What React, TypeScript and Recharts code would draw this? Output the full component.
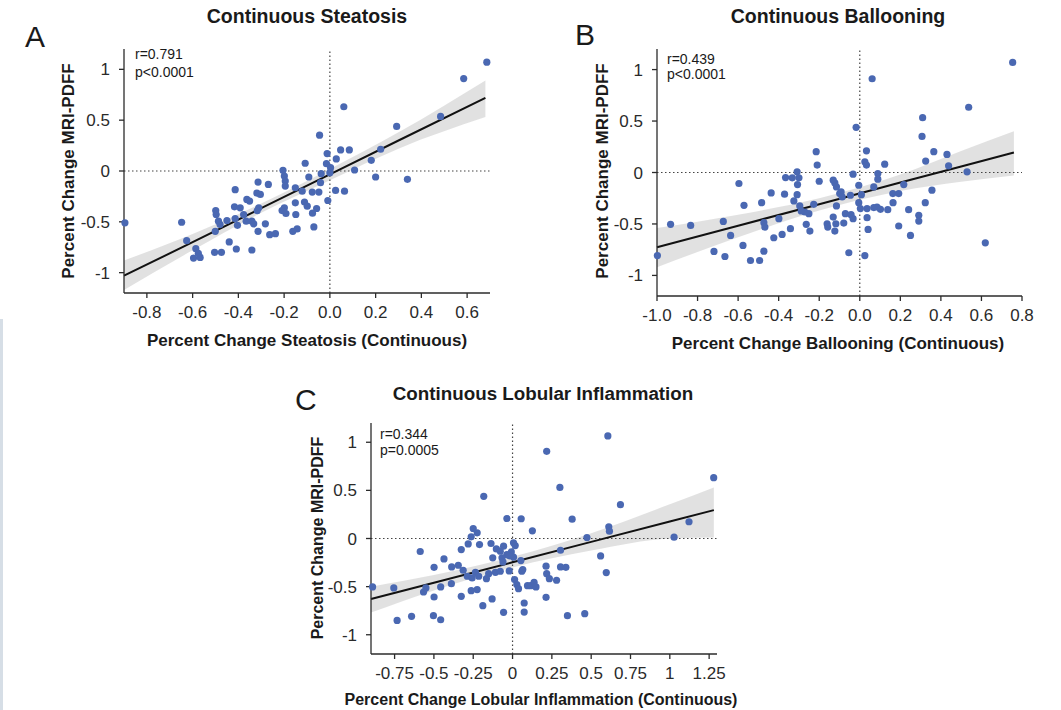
import React from "react";
import { ComposedChart, Scatter, Line, Area, XAxis, YAxis, ReferenceLine } from "recharts";

// shared y axis (percent change MRI-PDFF)
const yTicks = [-1, -0.5, 0, 0.5, 1];

// ---- A: steatosis ----
const steatosisTicks = [-0.8, -0.6, -0.4, -0.2, 0, 0.2, 0.4, 0.6];
const steatosisPoints: [number, number][] = [
  [0.686, 1.07], [0.585, 0.909], [0.484, 0.537], [0.061, 0.632], [-0.045, 0.352], [0.292, 0.438],
  [0.222, 0.214], [0.181, 0.105], [0.108, 0.01], [0.2, -0.059], [0.339, -0.082], [0.047, 0.207],
  [0.085, 0.207], [-0.012, 0.171], [0.028, 0.119], [-0.015, 0.072], [0.003, 0.033], [0, -0.016],
  [-0.038, -0.026], [-0.041, -0.115], [0.025, -0.191], [0.064, -0.198], [-0.009, -0.29], [-0.048, -0.207],
  [-0.077, -0.207], [-0.092, -0.059], [-0.108, 0.076], [-0.151, -0.165], [-0.121, -0.198], [-0.151, -0.313],
  [-0.111, -0.306], [-0.099, -0.346], [-0.058, -0.369], [-0.076, -0.415], [-0.149, -0.428], [-0.07, -0.55],
  [-0.143, -0.57], [-0.162, -0.593], [-0.205, 0.007], [-0.199, -0.049], [-0.195, -0.099], [-0.195, -0.148],
  [-0.199, -0.362], [-0.209, -0.389], [-0.192, -0.418], [-0.269, -0.132], [-0.314, -0.109], [-0.319, -0.217],
  [-0.304, -0.23], [-0.363, -0.28], [-0.351, -0.296], [-0.311, -0.362], [-0.318, -0.39], [-0.414, -0.184],
  [-0.417, -0.352], [-0.392, -0.362], [-0.377, -0.428], [-0.366, -0.494], [-0.341, -0.494], [-0.333, -0.52],
  [-0.404, -0.534], [-0.414, -0.468], [-0.499, -0.389], [-0.497, -0.428], [-0.487, -0.494], [-0.48, -0.527],
  [-0.45, -0.487], [-0.501, -0.593], [-0.282, -0.52], [-0.314, -0.593], [-0.263, -0.626], [-0.238, -0.616],
  [-0.44, -0.698], [-0.409, -0.767], [-0.341, -0.777], [-0.504, -0.8], [-0.474, -0.8], [-0.626, -0.685],
  [-0.586, -0.764], [-0.596, -0.856], [-0.567, -0.85], [-0.575, -0.81], [-0.648, -0.504], [-0.896, -0.51],
];
const steatosisFitX = [-0.9, -0.6, -0.3, 0, 0.3, 0.68];
const steatosisFit = [-1.03, -0.7, -0.366, -0.034, 0.3, 0.72];
const steatosisLower = [-1.17, -0.78, -0.41, -0.09, 0.22, 0.53];
const steatosisUpper = [-0.88, -0.62, -0.32, 0.02, 0.38, 0.89];

// ---- B: ballooning ----
const ballooningTicks = [-1, -0.8, -0.6, -0.4, -0.2, 0, 0.2, 0.4, 0.6, 0.8];
const ballooningPoints: [number, number][] = [
  [0.754, 1.07], [0.061, 0.911], [-0.018, 0.439], [0.537, 0.634], [0.31, 0.533], [0.307, 0.351],
  [0.325, 0.111], [0.365, 0.202], [0.43, 0.176], [0.438, 0.065], [0.529, 0.007], [0.619, -0.683],
  [0.033, 0.211], [0.025, 0.104], [0.033, 0.072], [0.089, -0.01], [0.089, -0.065], [0.123, 0.081],
  [0.069, -0.14], [-0.033, -0.016], [-0.005, -0.124], [0.008, -0.215], [-0.046, -0.221], [-0.005, -0.293],
  [0.003, -0.351], [0.036, -0.351], [0.069, -0.341], [0.085, -0.335], [0.102, -0.358], [0.138, -0.361],
  [0.036, -0.439], [0.041, -0.553], [0.025, -0.807], [-0.054, -0.78], [-0.071, -0.4], [-0.043, -0.41],
  [-0.033, -0.449], [-0.079, -0.491], [-0.118, -0.498], [-0.161, -0.498], [-0.158, -0.53], [-0.123, -0.569],
  [-0.131, -0.433], [-0.115, -0.325], [-0.099, -0.205], [-0.092, -0.189], [-0.087, -0.237], [-0.115, -0.14],
  [-0.123, -0.101], [-0.131, -0.075], [-0.215, 0.202], [-0.21, 0.072], [-0.2, -0.085], [-0.227, -0.309],
  [-0.246, -0.569], [-0.264, -0.504], [-0.251, -0.4], [-0.271, -0.384], [-0.309, 0.007], [-0.3, -0.052],
  [-0.307, -0.117], [-0.309, -0.215], [-0.325, -0.276], [-0.296, -0.325], [-0.289, -0.374], [-0.333, -0.052],
  [-0.366, -0.049], [-0.371, -0.211], [-0.437, -0.198], [-0.399, -0.449], [-0.424, -0.634], [-0.383, -0.602],
  [-0.342, -0.546], [-0.473, -0.488], [-0.468, -0.53], [-0.484, -0.293], [-0.473, -0.764], [-0.494, -0.855],
  [-0.539, -0.855], [-0.571, -0.319], [-0.596, -0.107], [-0.576, -0.709], [-0.637, -0.611], [-0.665, -0.816],
  [-0.673, -0.475], [-0.719, -0.767], [-0.834, -0.514], [-0.933, -0.504], [-0.998, -0.807], [0.163, -0.205],
  [0.164, -0.293], [0.192, -0.52], [0.217, -0.117], [0.241, -0.361], [0.25, -0.611], [0.291, -0.416],
  [0.291, -0.472], [0.323, -0.293], [0.356, -0.172], [0.192, -0.205],
];
const ballooningFitX = [-1.0, -0.6, -0.2, 0.2, 0.5, 0.76];
const ballooningFit = [-0.726, -0.517, -0.308, -0.098, 0.059, 0.194];
const ballooningLower = [-0.92, -0.63, -0.37, -0.18, -0.09, -0.03];
const ballooningUpper = [-0.54, -0.41, -0.25, -0.02, 0.21, 0.4];

// ---- C: lobular inflammation ----
const lobularTicks = [-0.75, -0.5, -0.25, 0, 0.25, 0.5, 0.75, 1, 1.25];
const lobularTickLabels = ["-0.75", "-0.5", "-0.25", "0", "0.25", "0.5", "0.75", "1", "1.25"];
const lobularPoints: [number, number][] = [
  [0.606, 1.066], [0.217, 0.906], [1.279, 0.632], [0.301, 0.531], [0.686, 0.351], [0.379, 0.201],
  [1.122, 0.174], [1.027, 0.014], [0.612, 0.122], [0.616, 0.076], [0.473, 0.01], [0.56, -0.181],
  [0.596, -0.354], [0.459, -0.781], [0.349, -0.802], [0.305, -0.295], [0.339, -0.299], [0.305, -0.122],
  [0.213, -0.288], [0.217, -0.365], [0.234, -0.417], [0.28, -0.434], [0.213, -0.611], [0.126, 0.08],
  [0.055, 0.205], [-0.036, 0.208], [-0.183, 0.438], [0.006, -0.045], [0.017, -0.073], [-0.008, -0.139],
  [-0.036, -0.167], [-0.057, -0.08], [-0.067, -0.201], [-0.078, -0.132], [-0.103, -0.108], [-0.137, -0.052],
  [-0.126, -0.201], [-0.109, -0.351], [-0.152, -0.365], [-0.166, -0.417], [-0.13, -0.628], [-0.189, -0.698],
  [-0.21, -0.063], [-0.225, 0.059], [-0.25, 0.104], [-0.263, 0.017], [-0.282, -0.056], [-0.326, -0.115],
  [-0.345, -0.278], [-0.314, -0.33], [-0.288, -0.392], [-0.236, -0.351], [-0.215, -0.392], [-0.257, -0.41],
  [-0.225, -0.531], [-0.263, -0.542], [-0.326, -0.601], [-0.387, -0.295], [-0.389, -0.469], [-0.436, -0.212],
  [-0.457, -0.503], [-0.499, -0.299], [-0.499, -0.608], [-0.503, -0.802], [-0.457, -0.844], [-0.566, -0.556],
  [-0.551, -0.514], [-0.587, -0.135], [-0.642, -0.809], [-0.734, -0.851], [-0.755, -0.514], [-0.89, -0.503],
  [-0.057, -0.767], [-0.021, -0.337], [0.013, -0.427], [0.027, -0.479], [0.038, -0.521], [0.059, -0.34],
  [0.065, -0.323], [0.074, -0.67], [0.074, -0.764], [0.095, -0.49], [0.116, -0.49], [0.137, -0.455],
  [0.149, -0.503], [0.053, -0.229], [0.006, -0.194], [-0.061, -0.243], [-0.078, -0.34], [-0.02, -0.18],
];
const lobularFitX = [-0.9, -0.5, 0, 0.5, 1.0, 1.28];
const lobularFit = [-0.628, -0.459, -0.247, -0.035, 0.176, 0.295];
const lobularLower = [-0.77, -0.54, -0.3, -0.125, 0.0, 0.01];
const lobularUpper = [-0.5, -0.38, -0.19, 0.055, 0.355, 0.53];

const FONT = '"Liberation Sans", Arial, Helvetica, sans-serif';
const DOT = "#4a68b2";
const AXIS = "#2b2b2b";
const Y_AXIS_W = 60;
const TOP_PAD = 6;
const X_AXIS_H = 34;

type PanelProps = {
  plotLeft: number;
  plotTop: number;
  plotW: number;
  plotH: number;
  xDomain: [number, number];
  xTicks: number[];
  xFormat: (v: number, i: number) => string;
  points: [number, number][];
  fitX: number[];
  fit: number[];
  lower: number[];
  upper: number[];
};

function Panel(p: PanelProps) {
  const table = p.fitX.map((x, i) => ({ x, fit: p.fit[i], band: [p.lower[i], p.upper[i]] }));
  const dots = p.points.map(([x, y]) => ({ x, y }));
  const tickStyle = { fontSize: 17, fill: "#2a2a2a", fontFamily: FONT };
  return (
    <div
      style={{
        position: "absolute",
        left: p.plotLeft - Y_AXIS_W,
        top: p.plotTop - TOP_PAD,
      }}
    >
      <ComposedChart
        width={p.plotW + Y_AXIS_W + 12}
        height={p.plotH + TOP_PAD + X_AXIS_H}
        data={table}
        margin={{ top: TOP_PAD, right: 12, bottom: 0, left: 0 }}
      >
        <XAxis
          type="number"
          dataKey="x"
          domain={p.xDomain}
          ticks={p.xTicks}
          interval={0}
          tickFormatter={p.xFormat}
          height={X_AXIS_H}
          tick={tickStyle}
          tickSize={5}
          tickMargin={8}
          axisLine={{ stroke: AXIS, strokeWidth: 1.3 }}
          tickLine={{ stroke: AXIS, strokeWidth: 1.3 }}
        />
        <YAxis
          type="number"
          domain={[-1.2, 1.2]}
          ticks={yTicks}
          interval={0}
          width={Y_AXIS_W}
          tick={tickStyle}
          tickSize={5}
          tickMargin={9}
          axisLine={{ stroke: AXIS, strokeWidth: 1.3 }}
          tickLine={{ stroke: AXIS, strokeWidth: 1.3 }}
        />
        <ReferenceLine x={0} stroke="#444" strokeWidth={1.2} strokeDasharray="1.5 2.5" />
        <ReferenceLine y={0} stroke="#444" strokeWidth={1.2} strokeDasharray="1.5 2.5" />
        <Scatter
          data={dots}
          dataKey="y"
          fill={DOT}
          isAnimationActive={false}
          shape={(s: any) => <circle cx={s.cx} cy={s.cy} r={3.6} fill={DOT} />}
        />
        <Area
          type="monotone"
          dataKey="band"
          stroke="none"
          fill="#9a9a9a"
          fillOpacity={0.3}
          isAnimationActive={false}
          activeDot={false}
        />
        <Line
          type="linear"
          dataKey="fit"
          stroke="#111"
          strokeWidth={2}
          dot={false}
          activeDot={false}
          isAnimationActive={false}
        />
      </ComposedChart>
    </div>
  );
}

const oneDecimal = (v: number) => v.toFixed(1);

function Text({ x, y, children, size, bold, center, rotate }: any) {
  return (
    <div
      style={{
        position: "absolute",
        left: x,
        top: y,
        transform: `translate(${center ? "-50%" : "0"}, -50%)${rotate ? " rotate(-90deg)" : ""}`,
        fontFamily: FONT,
        fontSize: size,
        fontWeight: bold ? 700 : 400,
        color: "#1a1a1a",
        whiteSpace: "nowrap",
        lineHeight: 1,
      }}
    >
      {children}
    </div>
  );
}

export default function App() {
  return (
    <div style={{ position: "absolute", left: 0, top: 0, width: 1061, height: 710, background: "#fff", overflow: "hidden" }}>
      <div style={{ position: "absolute", left: 0, top: 319, width: 3, height: 391, background: "#d6dee6" }} />

      {/* A */}
      <Text x={25} y={37} size={30}>A</Text>
      <Text x={307} y={17} size={19.5} bold center>Continuous Steatosis</Text>
      <Text x={68} y={171} size={17} bold center rotate>Percent Change MRI-PDFF</Text>
      <Text x={307} y={340} size={17} bold center>Percent Change Steatosis (Continuous)</Text>
      <Panel
        plotLeft={124}
        plotTop={49}
        plotW={366}
        plotH={244}
        xDomain={[-0.9, 0.7]}
        xTicks={steatosisTicks}
        xFormat={oneDecimal}
        points={steatosisPoints}
        fitX={steatosisFitX}
        fit={steatosisFit}
        lower={steatosisLower}
        upper={steatosisUpper}
      />
      <Text x={135} y={54} size={14}>r=0.791</Text>
      <Text x={135} y={72} size={14}>p&lt;0.0001</Text>

      {/* B */}
      <Text x={575} y={35} size={30}>B</Text>
      <Text x={838} y={17} size={19.5} bold center>Continuous Ballooning</Text>
      <Text x={602} y={171} size={17} bold center rotate>Percent Change MRI-PDFF</Text>
      <Text x={838} y={343} size={17} bold center>Percent Change Ballooning (Continuous)</Text>
      <Panel
        plotLeft={657}
        plotTop={49}
        plotW={365}
        plotH={247}
        xDomain={[-1.0, 0.8]}
        xTicks={ballooningTicks}
        xFormat={oneDecimal}
        points={ballooningPoints}
        fitX={ballooningFitX}
        fit={ballooningFit}
        lower={ballooningLower}
        upper={ballooningUpper}
      />
      <Text x={667} y={59} size={14}>r=0.439</Text>
      <Text x={667} y={74} size={14}>p&lt;0.0001</Text>

      {/* C */}
      <Text x={295} y={400} size={30}>C</Text>
      <Text x={543} y={394} size={18.8} bold center>Continuous Lobular Inflammation</Text>
      <Text x={318} y={538} size={16} bold center rotate>Percent Change MRI-PDFF</Text>
      <Text x={541} y={700} size={16} bold center>Percent Change Lobular Inflammation (Continuous)</Text>
      <Panel
        plotLeft={371}
        plotTop={423}
        plotW={346}
        plotH={231}
        xDomain={[-0.9, 1.3]}
        xTicks={lobularTicks}
        xFormat={(_v: number, i: number) => lobularTickLabels[i]}
        points={lobularPoints}
        fitX={lobularFitX}
        fit={lobularFit}
        lower={lobularLower}
        upper={lobularUpper}
      />
      <Text x={380} y={434} size={14}>r=0.344</Text>
      <Text x={380} y={450} size={14}>p=0.0005</Text>
    </div>
  );
}
